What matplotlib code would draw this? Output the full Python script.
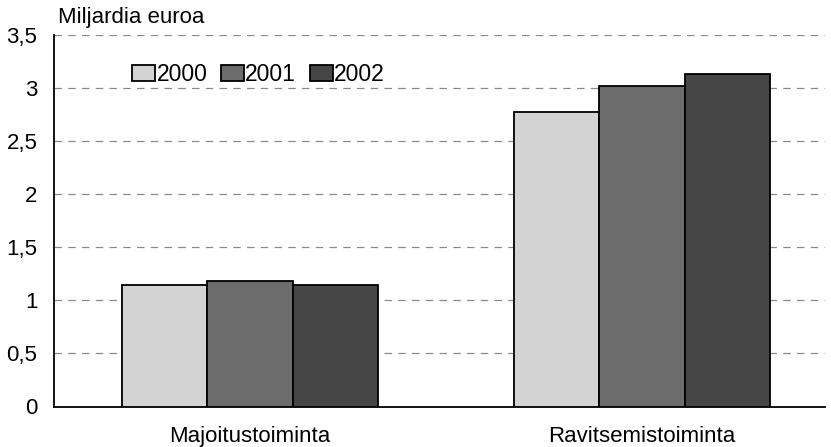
import matplotlib.pyplot as plt
import numpy as np

plt.rcParams['font.family'] = ['Liberation Sans', 'DejaVu Sans']

categories = ['Majoitustoiminta', 'Ravitsemistoiminta']
years = ['2000', '2001', '2002']
values = {
    '2000': [1.14, 2.77],
    '2001': [1.18, 3.02],
    '2002': [1.14, 3.13],
}
colors = ['#d3d3d3', '#6c6c6c', '#464646']
yticks = [0, 0.5, 1, 1.5, 2, 2.5, 3, 3.5]

fig = plt.figure(figsize=(8.31, 4.47), dpi=100)
ax = fig.add_axes([54 / 831, 40.5 / 447, 771 / 831, 371.5 / 447])

x = np.arange(len(categories))
w = 0.217
for i, yr in enumerate(years):
    ax.bar(x + (i - 1) * w, values[yr], w, color=colors[i], edgecolor='black',
           linewidth=1.3, label=yr, zorder=3)

ax.set_xlim(-0.5, -0.5 + 771 / 392)
ax.set_ylim(0, 3.5)
ax.set_yticks(yticks)
ax.set_yticklabels([f'{t:g}'.replace('.', ',') for t in yticks], fontsize=16)
ax.set_xticks(x)
ax.set_xticklabels(categories, fontsize=16)
ax.tick_params(axis='both', length=0)
ax.tick_params(axis='y', pad=12)
ax.tick_params(axis='x', pad=14)

for t in yticks[1:]:
    ax.axhline(t, color='#8a8a8a', linestyle=(0, (6, 5)), linewidth=0.9, zorder=1)

ax.spines['top'].set_visible(False)
ax.spines['right'].set_visible(False)
ax.spines['left'].set_linewidth(1.3)
ax.spines['bottom'].set_linewidth(1.3)

fig.text(58 / 831, 1 - 18 / 447, 'Miljardia euroa', fontsize=16, va='center', ha='left')

ax.legend(loc='upper left', bbox_to_anchor=(0.075, 0.98), ncol=3, frameon=False,
          fontsize=16.5, handlelength=1.0, handleheight=0.65, handletextpad=0.05,
          columnspacing=0.6)

fig.savefig('out.png', dpi=100)
